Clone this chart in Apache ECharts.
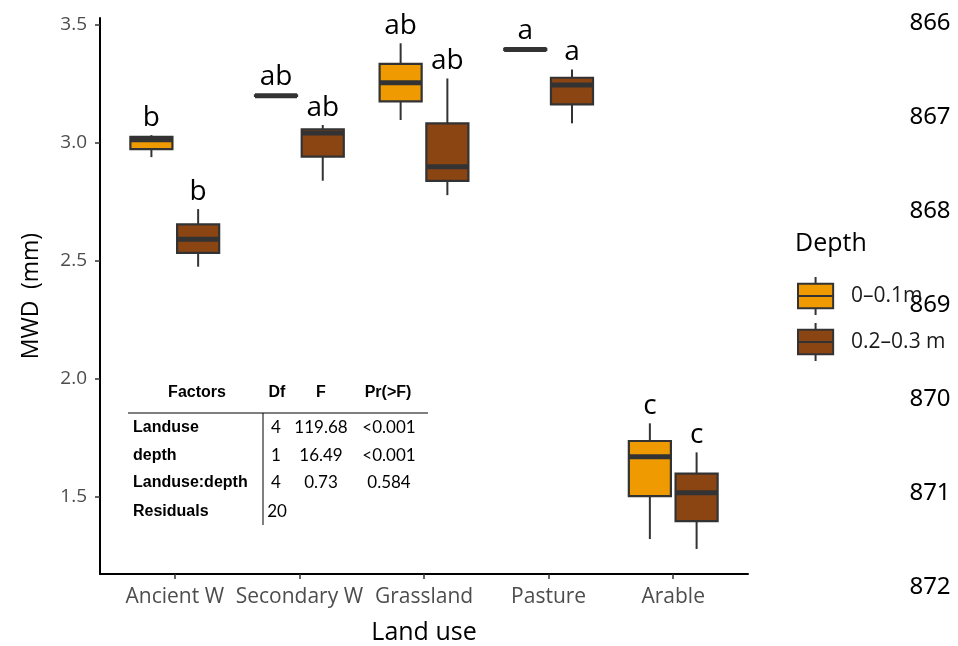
<!DOCTYPE html>
<html>
<head>
<meta charset="utf-8">
<script src="https://cdn.jsdelivr.net/npm/echarts@6/dist/echarts.min.js"></script>
<style>
html,body{margin:0;padding:0;background:#fff;}
#chart{width:958px;height:646px;}
</style>
</head>
<body>
<div id="chart"></div>
<script>
// ---------- data ----------
const categories = ['Ancient W', 'Secondary W', 'Grassland', 'Pasture', 'Arable'];
const depthNames = ['0\u20130.1m', '0.2\u20130.3 m'];

// 0–0.1 m
const shallowMin    = [2.938, 3.195, 3.095, 3.390, 1.321];
const shallowQ1     = [2.972, 3.197, 3.174, 3.392, 1.503];
const shallowMedian = [3.012, 3.198, 3.253, 3.394, 1.669];
const shallowQ3     = [3.024, 3.200, 3.333, 3.396, 1.736];
const shallowMax    = [3.031, 3.204, 3.420, 3.398, 1.811];
const shallowLetters = ['b', 'ab', 'ab', 'a', 'c'];

// 0.2–0.3 m
const deepMin    = [2.474, 2.838, 2.777, 3.081, 1.279];
const deepQ1     = [2.533, 2.940, 2.837, 3.161, 1.397];
const deepMedian = [2.590, 3.040, 2.897, 3.243, 1.517];
const deepQ3     = [2.653, 3.056, 3.081, 3.274, 1.598];
const deepMax    = [2.718, 3.074, 3.271, 3.309, 1.688];
const deepLetters = ['b', 'ab', 'ab', 'a', 'c'];

const yTicks = [1.5, 2.0, 2.5, 3.0, 3.5];

// ANOVA table
const tableHeader = ['Factors', 'Df', 'F', 'Pr(>F)'];
const tableFactors = ['Landuse', 'depth', 'Landuse:depth', 'Residuals'];
const tableDf = ['4', '1', '4', '20'];
const tableF = ['119.68', '16.49', '0.73', ''];
const tableP = ['<0.001', '<0.001', '0.584', ''];

// manuscript line numbers
const lineNumbers = ['866', '867', '868', '869', '870', '871', '872'];

// ---------- styles ----------
const FILLS = ['#EE9A00', '#8B4513'];
const DARK = '#333333';
const BOX_W = 0.3375;
const DODGE = 0.1875;
const FONT = '"Open Sans", "Noto Sans", sans-serif';

function buildData(mins, q1, med, q3, maxs, letters) {
  return categories.map((c, i) => ({
    value: [i + 1, mins[i], q1[i], med[i], q3[i], maxs[i]],
    letter: letters[i]
  }));
}

const seriesData = [
  buildData(shallowMin, shallowQ1, shallowMedian, shallowQ3, shallowMax, shallowLetters),
  buildData(deepMin, deepQ1, deepMedian, deepQ3, deepMax, deepLetters)
];

function makeRender(sIdx) {
  const dodge = sIdx === 0 ? -DODGE : DODGE;
  const fill = FILLS[sIdx];
  return function (params, api) {
    const x = api.value(0) + dodge;
    const pMin = api.coord([x, api.value(1)]);
    const pQ1 = api.coord([x, api.value(2)]);
    const pMed = api.coord([x, api.value(3)]);
    const pQ3 = api.coord([x, api.value(4)]);
    const pMax = api.coord([x, api.value(5)]);
    const half = api.size([BOX_W, 0])[0] / 2;
    const cx = pMed[0];
    const letter = seriesData[sIdx][params.dataIndex].letter;
    return {
      type: 'group',
      children: [
        { type: 'line', shape: { x1: cx, y1: pMax[1], x2: cx, y2: pQ3[1] },
          style: { stroke: DARK, lineWidth: 2 } },
        { type: 'line', shape: { x1: cx, y1: pQ1[1], x2: cx, y2: pMin[1] },
          style: { stroke: DARK, lineWidth: 2 } },
        { type: 'rect', shape: { x: cx - half, y: pQ3[1], width: half * 2, height: Math.max(pQ1[1] - pQ3[1], 0.5) },
          style: { fill: fill, stroke: DARK, lineWidth: 2.2 } },
        { type: 'line', shape: { x1: cx - half, y1: pMed[1], x2: cx + half, y2: pMed[1] },
          style: { stroke: DARK, lineWidth: 5 } },
        { type: 'text',
          style: { text: letter, x: cx, y: pMax[1] - 3,
                   align: 'center', verticalAlign: 'bottom',
                   textAlign: 'center', textVerticalAlign: 'bottom',
                   font: '28px ' + FONT, fill: '#000' } }
      ]
    };
  };
}

// ---------- graphics (table, line numbers, legend title) ----------
const graphics = [];
const hdrX = [197, 277, 321, 388];
tableHeader.forEach((t, i) => {
  graphics.push({ type: 'text', x: hdrX[i], y: 393,
    style: { text: t, align: 'center', verticalAlign: 'middle', textAlign: 'center', textVerticalAlign: 'middle',
      font: 'bold 16px "Liberation Sans", Arial, sans-serif', fill: '#000' } });
});
graphics.push({ type: 'line', shape: { x1: 128, y1: 413, x2: 428, y2: 413 }, style: { stroke: '#000', lineWidth: 1 } });
graphics.push({ type: 'line', shape: { x1: 263, y1: 413, x2: 263, y2: 525 }, style: { stroke: '#000', lineWidth: 1 } });
const rowY = [428, 456, 483, 512];
tableFactors.forEach((t, i) => {
  graphics.push({ type: 'text', x: 133, y: rowY[i],
    style: { text: t, align: 'left', verticalAlign: 'middle', textAlign: 'left', textVerticalAlign: 'middle',
      font: 'bold 16px "Liberation Sans", Arial, sans-serif', fill: '#000' } });
  const cells = [[tableDf[i], 276], [tableF[i], 321], [tableP[i], 389]];
  cells.forEach(([txt, cx], k) => {
    if (!txt) return;
    graphics.push({ type: 'text', x: (k === 0 && txt.length > 1) ? cx + 1 : cx, y: rowY[i],
      style: { text: txt, align: 'center', verticalAlign: 'middle', textAlign: 'center', textVerticalAlign: 'middle',
        font: '17px Lato, sans-serif', fill: '#000' } });
  });
});
lineNumbers.forEach((t, i) => {
  graphics.push({ type: 'text', x: 930, y: 23 + i * 94,
    style: { text: t, align: 'center', verticalAlign: 'middle', textAlign: 'center', textVerticalAlign: 'middle',
      font: '24px "Noto Sans", sans-serif', fill: '#000' } });
});
graphics.push({ type: 'text', x: 795, y: 244,
  style: { text: 'Depth', align: 'left', verticalAlign: 'middle', textAlign: 'left', textVerticalAlign: 'middle',
    font: '25px ' + FONT, fill: '#000' } });

const chart = echarts.init(document.getElementById('chart'), null, { renderer: 'canvas' });
chart.setOption({
  animation: false,
  backgroundColor: '#fff',
  grid: { left: 100, right: 210, top: 18, bottom: 72, containLabel: false, outerBoundsMode: 'none' },
  xAxis: {
    type: 'value', min: 0.4, max: 5.6,
    name: 'Land use', nameLocation: 'middle', nameGap: 46,
    nameTextStyle: { fontFamily: FONT, fontSize: 25, color: '#000' },
    axisLine: { show: true, onZero: false, lineStyle: { color: '#000', width: 2 } },
    axisTick: { show: true, length: 5, customValues: [1, 2, 3, 4, 5], lineStyle: { color: DARK, width: 1.5 } },
    axisLabel: { show: true, customValues: [1, 2, 3, 4, 5], margin: 13,
      formatter: v => categories[Math.round(v) - 1] || '',
      fontFamily: FONT, fontSize: 21, color: '#4D4D4D' },
    splitLine: { show: false }
  },
  yAxis: {
    type: 'value', min: 1.173, max: 3.527,
    name: 'MWD\u2002(mm)', nameLocation: 'middle', nameGap: 57, nameRotate: 90,
    nameTextStyle: { fontFamily: FONT, fontSize: 23, color: '#000' },
    axisLine: { show: true, onZero: false, lineStyle: { color: '#000', width: 2 } },
    axisTick: { show: true, length: 5, customValues: yTicks, lineStyle: { color: DARK, width: 1.5 } },
    axisLabel: { show: true, customValues: yTicks, margin: 13,
      formatter: v => Number(v).toFixed(1),
      fontFamily: FONT, fontSize: 19, color: '#4D4D4D' },
    splitLine: { show: false }
  },
  legend: {
    orient: 'vertical', left: 792, top: 271,
    itemWidth: 37, itemHeight: 38, itemGap: 6,
    icon: 'path://M0,7L37,7L37,33L0,33Z M18.5,0L18.5,7 M18.5,33L18.5,40 M0,20L37,20',
    itemStyle: { borderColor: DARK, borderWidth: 2 },
    textStyle: { fontFamily: FONT, fontSize: 21, color: '#1A1A1A', padding: [0, 0, 0, 12] },
    data: depthNames,
    selectedMode: false
  },
  graphic: graphics,
  series: depthNames.map((name, s) => ({
    type: 'custom',
    name: name,
    renderItem: makeRender(s),
    itemStyle: { color: FILLS[s] },
    encode: { x: 0, y: [1, 2, 3, 4, 5] },
    data: seriesData[s],
    z: 3
  }))
});
</script>
</body>
</html>
